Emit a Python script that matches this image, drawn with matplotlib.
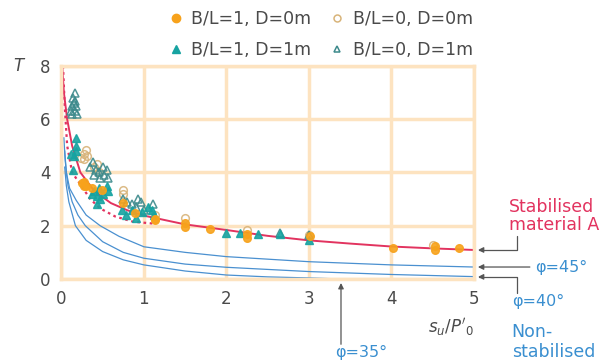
import matplotlib
matplotlib.use("Agg")
import matplotlib.pyplot as plt
from matplotlib.lines import Line2D

plt.rcParams['font.family'] = ['DejaVu Sans']
plt.rcParams['mathtext.fontset'] = 'dejavusans'

# --- data ---
# theoretical curves (x = su/P'0, T)
stab_x = [0.01, 0.03, 0.07, 0.13, 0.23, 0.4, 0.6, 0.8, 1.0, 1.5, 2.0, 2.5, 3.0, 3.5, 4.0, 4.5, 5.0]
stab_y = [8.0, 7.0, 6.0, 5.0, 4.0, 3.3, 2.85, 2.58, 2.38, 2.05, 1.84, 1.62, 1.45, 1.33, 1.22, 1.15, 1.09]
stab_dot_x = [0.02, 0.04, 0.07, 0.13, 0.23, 0.35, 0.47, 0.65, 0.87, 1.12]
stab_dot_y = [8.0, 6.5, 5.0, 4.0, 3.55, 3.0, 2.65, 2.35, 2.15, 2.08]

phi45_x = [0.03, 0.045, 0.06, 0.1, 0.18, 0.3, 0.47, 0.7, 1.0, 1.5, 2.0, 3.0, 4.0, 5.0]
phi45_y = [5.3, 4.5, 4.0, 3.4, 2.95, 2.4, 2.0, 1.6, 1.21, 1.0, 0.84, 0.65, 0.53, 0.45]
phi40_x = [0.04, 0.06, 0.08, 0.13, 0.2, 0.29, 0.5, 0.75, 1.0, 1.5, 2.0, 3.0, 4.0, 5.0]
phi40_y = [4.8, 4.0, 3.5, 2.9, 2.4, 2.0, 1.4, 1.0, 0.78, 0.56, 0.44, 0.28, 0.17, 0.09]
phi35_x = [0.04, 0.06, 0.09, 0.17, 0.3, 0.5, 0.75, 1.0, 1.5, 2.0, 2.5, 3.0, 3.4]
phi35_y = [4.2, 3.5, 2.9, 2.0, 1.45, 1.03, 0.72, 0.53, 0.3, 0.15, 0.08, 0.04, 0.0]

# tests
c1_x = [0.25, 0.28, 0.27, 0.3, 0.37, 0.49, 0.75, 0.89, 1.13, 1.13, 1.5, 1.5, 1.8,
        2.25, 2.25, 3.02, 4.02, 4.53, 4.53, 4.82]
c1_y = [3.6, 3.5, 3.65, 3.5, 3.4, 3.35, 2.85, 2.47, 2.2, 2.25, 1.96, 2.1, 1.87,
        1.55, 1.7, 1.6, 1.16, 1.1, 1.25, 1.16]
c0_x = [0.24, 0.27, 0.3, 0.31, 0.28, 0.4, 0.45, 0.43, 0.75, 0.75, 1.13, 1.5, 2.25, 3.0, 4.5]
c0_y = [4.55, 4.7, 4.85, 4.6, 4.5, 4.2, 4.0, 4.3, 3.35, 3.2, 2.4, 2.3, 1.85, 1.65, 1.28]
t1_x = [0.18, 0.18, 0.18, 0.15, 0.12, 0.14, 0.37, 0.4, 0.43, 0.47, 0.5, 0.55, 0.56, 0.45,
        0.43, 0.74, 0.78, 0.85, 0.9, 0.98, 1.05, 1.1, 1.12, 2.0, 2.17, 2.38, 2.65, 3.0]
t1_y = [5.3, 5.0, 4.8, 4.6, 4.7, 4.1, 3.2, 3.3, 3.1, 3.0, 3.2, 3.5, 3.3, 3.4,
        2.8, 2.6, 2.4, 2.6, 2.3, 2.5, 2.7, 2.6, 2.4, 1.73, 1.73, 1.69, 1.7, 1.47]
t0_x = [0.12, 0.13, 0.15, 0.14, 0.16, 0.17, 0.18, 0.16, 0.19, 0.13,
        0.35, 0.38, 0.42, 0.45, 0.5, 0.52, 0.55, 0.57, 0.4, 0.47,
        0.75, 0.8, 0.85, 0.9, 0.97, 1.0, 0.93, 1.11, 2.65, 3.0]
t0_y = [6.3, 6.5, 6.6, 6.8, 7.0, 6.7, 6.5, 6.3, 6.2, 6.2,
        4.2, 4.4, 4.1, 4.0, 4.2, 3.9, 4.1, 3.8, 3.9, 3.8,
        3.0, 2.9, 2.8, 2.7, 2.9, 2.6, 3.0, 2.8, 1.73, 1.65]

x_ticks = [0, 1, 2, 3, 4, 5]
y_ticks = [0, 2, 4, 6, 8]

ORANGE = '#F7A21B'
TAN = '#D8B47A'
TEAL = '#17A3A1'
DTEAL = '#3D8A8C'
RED = '#E2335F'
BLUE = '#4A90D0'
TBLUE = '#3A8FD0'
GRID = '#FDE3C0'
TXT = '#4A4A4A'

fig = plt.figure(figsize=(6.02, 3.64), dpi=100)
ax = fig.add_axes([0.102, 0.2335, 0.685, 0.5855])
ax.set_xlim(0, 5)
ax.set_ylim(0, 8)
ax.set_xticks(x_ticks)
ax.set_yticks(y_ticks)
ax.grid(True, color=GRID, lw=2.5)
ax.set_axisbelow(True)
for s in ax.spines.values():
    s.set_color(GRID)
    s.set_linewidth(2.5)
ax.tick_params(length=0, labelsize=12, colors=TXT, pad=8)

for xs, ys in [(phi45_x, phi45_y), (phi40_x, phi40_y), (phi35_x, phi35_y)]:
    ax.plot(xs, ys, color=BLUE, lw=0.9, clip_on=False)
ax.plot(stab_x, stab_y, color=RED, lw=1.4)
ax.plot(stab_dot_x, stab_dot_y, color=RED, lw=1.6, ls=(0, (1.2, 1.6)))

ax.plot(c0_x, c0_y, 'o', ms=5.5, mfc='none', mec=TAN, mew=1.1, alpha=0.9)
ax.plot(t0_x, t0_y, '^', ms=6, mfc='none', mec=DTEAL, mew=1.1, alpha=0.9)
ax.plot(t1_x, t1_y, '^', ms=6, color=TEAL, mec=TEAL, alpha=0.9)
ax.plot(c1_x, c1_y, 'o', ms=5.5, color=ORANGE, mec=ORANGE, alpha=0.9)

handles = [
    Line2D([], [], ls='none', marker='o', ms=6, color=ORANGE),
    Line2D([], [], ls='none', marker='^', ms=6, color=TEAL),
    Line2D([], [], ls='none', marker='o', ms=5, mfc='none', mec=TAN, mew=1.1),
    Line2D([], [], ls='none', marker='^', ms=5, mfc='none', mec=DTEAL, mew=1.1),
]
labels = ['B/L=1, D=0m', 'B/L=1, D=1m', 'B/L=0, D=0m', 'B/L=0, D=1m']
leg = ax.legend(handles, labels, ncol=2, loc='lower center', bbox_to_anchor=(0.627, 1.0),
                frameon=False, fontsize=12.5, labelspacing=0.75, columnspacing=1.0,
                handletextpad=0.4, handlelength=1.0, borderaxespad=0)
for t in leg.get_texts():
    t.set_color(TXT)

ax.text(-0.105, 1.0, 'T', transform=ax.transAxes, fontsize=12, style='italic',
        color=TXT, ha='center', va='center')
ax.text(5.0, -1.8, r"$\mathit{s_u/P'_0}$", fontsize=12, color=TXT, ha='right', va='center')

arrow = dict(arrowstyle='-|>', color='#555555', lw=0.9, mutation_scale=8, shrinkA=0, shrinkB=0)

ax.text(5.43, 2.37, 'Stabilised\nmaterial A', color=RED, fontsize=12.5, ha='left', va='center',
        linespacing=1.05)
ax.annotate('', xy=(5.05, 1.09), xytext=(5.53, 1.62), annotation_clip=False,
            arrowprops=dict(connectionstyle='angle,angleA=90,angleB=0,rad=0', **arrow))

ax.annotate('', xy=(5.05, 0.45), xytext=(5.68, 0.45), annotation_clip=False, arrowprops=arrow)
ax.text(5.74, 0.45, 'φ=45°', color=TBLUE, fontsize=11.5, ha='left', va='center')

ax.annotate('', xy=(5.05, 0.08), xytext=(5.52, -0.52), annotation_clip=False,
            arrowprops=dict(connectionstyle='angle,angleA=90,angleB=0,rad=0', **arrow))
ax.text(5.46, -0.86, 'φ=40°', color=TBLUE, fontsize=11.5, ha='left', va='center')
ax.text(5.46, -2.37, 'Non-\nstabilised', color=TBLUE, fontsize=12.5, ha='left', va='center',
        linespacing=1.1)

ax.annotate('', xy=(3.39, -0.15), xytext=(3.39, -2.45), annotation_clip=False, arrowprops=arrow)
ax.text(3.63, -2.75, 'φ=35°', color=TBLUE, fontsize=11.5, ha='center', va='center')

fig.savefig('out.png', dpi=100)
